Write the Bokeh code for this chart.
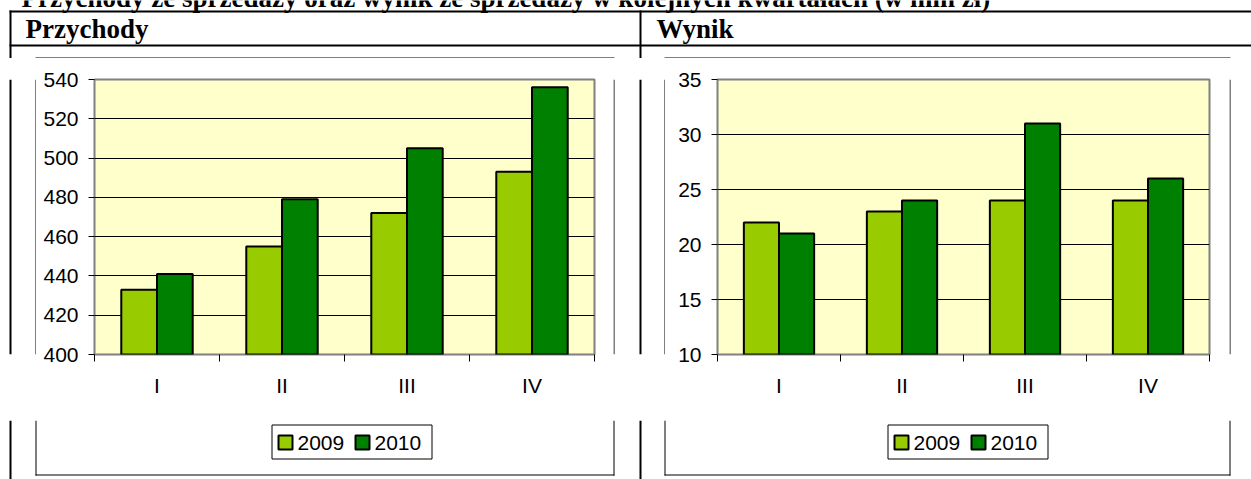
from bokeh.plotting import figure
from bokeh.models import Range1d, FixedTicker, LinearAxis, GridBox
from bokeh.transform import dodge
from bokeh.core.properties import value
from bokeh.embed import file_html
from bokeh.resources import INLINE

# ---------------- data ----------------
quarters = ["I", "II", "III", "IV"]
years = ["2009", "2010"]
revenue_2009 = [433, 455, 472, 493]
revenue_2010 = [441, 479, 505, 536]
result_2009 = [22, 23, 24, 24]
result_2010 = [21, 24, 31, 26]
revenue_ticks = [400, 420, 440, 460, 480, 500, 520, 540]
result_ticks = [10, 15, 20, 25, 30, 35]

title_text = "Przychody ze sprzedaży oraz wynik ze sprzedaży w kolejnych kwartałach (w mln zł)"
header_left = "Przychody"
header_right = "Wynik"

# ---------------- styles / layout (page pixels) ----------------
C2009 = "#99CC00"
C2010 = "#008000"
YEAR_COLORS = [C2009, C2010]
PLOT_BG = "#FFFFCC"
SANS = "Liberation Sans"
SERIF = "Liberation Serif"
PAGE_W, PAGE_H = 1251, 479
BAR_W = 1 / 3.5
HEAD_H = 58          # header band: rows 0..57
MID_Y1 = 420         # middle band: rows 58..419
BOX_B = 474          # chart box bottom line row
COLS = [0, 36, 613, 665, 1229, PAGE_W]
LEGEND_LEFT = [271, 887]


def strip(x0, x1, y0, y1):
    p = figure(width=x1 - x0, height=y1 - y0,
               x_range=Range1d(x0, x1), y_range=Range1d(y1, y0),
               x_axis_location=None, y_axis_location=None, title=None,
               toolbar_location=None, output_backend="svg", min_border=0)
    p.grid.visible = False
    p.outline_line_color = None
    p.background_fill_color = "white"
    p.border_fill_color = "white"
    return p


def rect(p, l, r, t, b):
    p.quad(left=[l], right=[r], top=[t], bottom=[b],
           fill_color="black", line_color=None)


def make_chart(x0, x1, frame, y_start, y_end, ticks, v09, v10):
    fl, fr, ft, fb = frame
    n = len(quarters)
    centers = [i + 0.5 for i in range(n)]
    p = figure(width=x1 - x0, height=MID_Y1 - HEAD_H,
               x_range=Range1d(0, n), y_range=Range1d(y_start, y_end),
               x_axis_location=None, title=None,
               toolbar_location=None, output_backend="svg",
               min_border_left=fl - x0, min_border_right=x1 - fr,
               min_border_top=ft - HEAD_H, min_border_bottom=MID_Y1 - fb)
    p.background_fill_color = PLOT_BG
    p.border_fill_color = "white"
    p.outline_line_color = "#808080"
    p.outline_line_width = 2
    p.xgrid.visible = False
    p.ygrid.grid_line_color = "black"
    p.ygrid.grid_line_width = 1

    ya = p.yaxis[0]
    ya.ticker = FixedTicker(ticks=ticks)
    ya.axis_line_color = None
    ya.major_tick_out = 6
    ya.major_tick_in = 0
    ya.major_tick_line_color = "black"
    ya.minor_tick_line_color = None
    ya.major_label_standoff = 10
    ya.major_label_text_font = SANS
    ya.major_label_text_font_size = "21px"
    ya.major_label_text_color = "black"

    # tick marks on category boundaries
    bt = LinearAxis(ticker=FixedTicker(ticks=list(range(n + 1))),
                    axis_line_color=None, major_tick_out=7, major_tick_in=0,
                    major_tick_line_color="black", minor_tick_line_color=None,
                    major_label_text_font_size="0px", major_label_standoff=0)
    p.add_layout(bt, "below")
    # category labels at centres
    ca = LinearAxis(ticker=FixedTicker(ticks=centers),
                    major_label_overrides={c: q for c, q in zip(centers, quarters)},
                    axis_line_color=None, major_tick_out=0, major_tick_in=0,
                    major_tick_line_color=None, minor_tick_line_color=None,
                    major_label_standoff=12, major_label_text_font=SANS,
                    major_label_text_font_size="21px",
                    major_label_text_color="black")
    p.add_layout(ca, "below")

    src = dict(x=centers, a=v09, b=v10)
    p.vbar(x=dodge("x", -BAR_W / 2), top="a", bottom=y_start,
           width=BAR_W, source=src, fill_color=C2009, line_color="black",
           line_width=2)
    p.vbar(x=dodge("x", BAR_W / 2), top="b", bottom=y_start,
           width=BAR_W, source=src, fill_color=C2010, line_color="black",
           line_width=2)
    return p


# ---- header band: title, table borders, cell headers, chart box tops ----
T = strip(0, PAGE_W, 0, HEAD_H)
rect(T, 9, PAGE_W, 10, 12)
rect(T, 9, PAGE_W, 44, 46)
rect(T, 9, 11, 10, HEAD_H)
rect(T, 639, 641, 10, HEAD_H)
rect(T, 35, 614, 57, HEAD_H)
rect(T, 664, 1230, 57, HEAD_H)
T.text(x=[21, 25, 656], y=[-3, 28.5, 28.5],
       text=[title_text, header_left, header_right],
       text_font=value(SERIF), text_font_style="bold", text_font_size="27px",
       text_baseline="middle", text_align="left", text_color="black")

# ---- middle band: borders and the two charts ----
L1 = strip(COLS[0], COLS[1], HEAD_H, MID_Y1)
rect(L1, 9, 11, HEAD_H, MID_Y1)
rect(L1, 35, 36, HEAD_H, MID_Y1)

C1 = make_chart(COLS[1], COLS[2], (94, 594, 75, 355), 400, 540, revenue_ticks,
                revenue_2009, revenue_2010)

M = strip(COLS[2], COLS[3], HEAD_H, MID_Y1)
rect(M, 613, 614, HEAD_H, MID_Y1)
rect(M, 639, 641, HEAD_H, MID_Y1)
rect(M, 664, 665, HEAD_H, MID_Y1)

C2 = make_chart(COLS[3], COLS[4], (717, 1209, 79, 354), 10, 35, result_ticks,
                result_2009, result_2010)

R = strip(COLS[4], COLS[5], HEAD_H, MID_Y1)
rect(R, 1229, 1230, HEAD_H, MID_Y1)

# ---- bottom band: legends, chart box bottoms, table borders ----
B = strip(0, PAGE_W, MID_Y1, PAGE_H)
rect(B, 9, 11, MID_Y1, PAGE_H)
rect(B, 639, 641, MID_Y1, PAGE_H)
for xl in (35, 613, 664, 1229):
    rect(B, xl, xl + 1, MID_Y1, BOX_B + 1)
rect(B, 35, 614, BOX_B, BOX_B + 1)
rect(B, 664, 1230, BOX_B, BOX_B + 1)

for lx in LEGEND_LEFT:
    B.rect(x=[lx + 80.5], y=[441.5], width=[160], height=[34],
           fill_color="white", line_color="black", line_width=1)
    sw_x = [lx + 14 + k * 77 for k in range(len(years))]
    tx_x = [lx + 26 + k * 77 for k in range(len(years))]
    B.rect(x=sw_x, y=[442] * len(years), width=14, height=14,
           fill_color=YEAR_COLORS, line_color="black", line_width=2)
    B.text(x=tx_x, y=[442] * len(years), text=years,
           text_font=value(SANS), text_font_size="21px",
           text_baseline="middle", text_align="left", text_color="black")

widths = [COLS[i + 1] - COLS[i] for i in range(5)]
layout = GridBox(
    children=[(T, 0, 0, 1, 5), (L1, 1, 0), (C1, 1, 1), (M, 1, 2), (C2, 1, 3),
              (R, 1, 4), (B, 2, 0, 1, 5)],
    rows=["%dpx" % HEAD_H, "%dpx" % (MID_Y1 - HEAD_H), "%dpx" % (PAGE_H - MID_Y1)],
    cols=["%dpx" % w for w in widths],
    spacing=0, width=PAGE_W, height=PAGE_H)
open("out.html", "w").write(file_html(layout, INLINE))
